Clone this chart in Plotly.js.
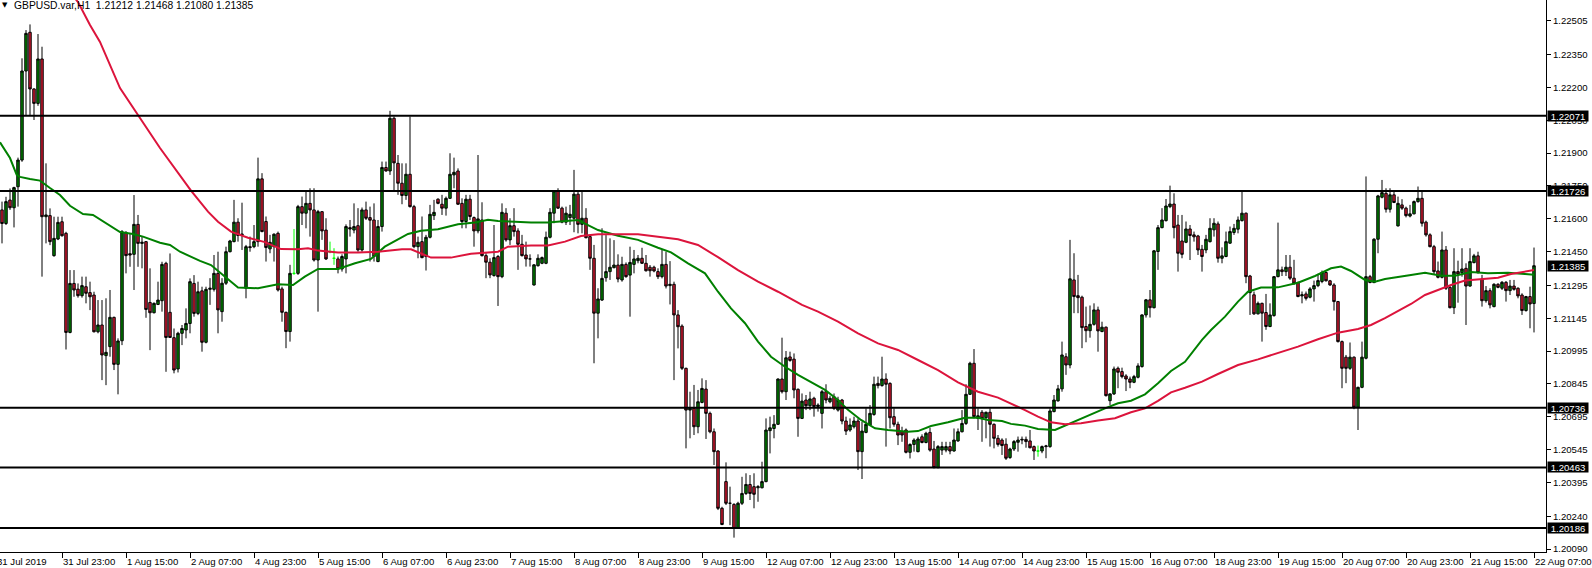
<!DOCTYPE html>
<html>
<head>
<meta charset="utf-8">
<script src="https://cdn.plot.ly/plotly-3.0.1.min.js"></script>
<style>
html,body{margin:0;padding:0;background:#fff;}
#chart{width:1592px;height:568px;}
</style>
</head>
<body>
<div id="chart"></div>
<script>
const symbol = "GBPUSD.var";
const timeframe = "H1";

const open = [
1.21600,1.21640,1.21578,1.21685,1.21650,1.21746,1.21868,1.22275,1.22452,1.22193,
1.22127,1.22330,1.21609,1.21614,1.21431,1.21507,1.21586,1.21533,1.21080,1.21304,
1.21278,1.21248,1.21289,1.21262,1.21251,1.21083,1.21114,1.20974,1.21015,1.21149,
1.20934,1.21042,1.21537,1.21440,1.21437,1.21574,1.21487,1.21495,1.21217,1.21170,
1.21208,1.21225,1.21396,1.21172,1.21056,1.20913,1.21076,1.21091,1.21121,1.21304,
1.21167,1.21270,1.21035,1.21277,1.21277,1.21350,1.21175,1.21305,1.21449,1.21495,
1.21584,1.21526,1.21282,1.21472,1.21472,1.21495,1.21782,1.21587,1.21462,1.21472,
1.21533,1.21279,1.21172,1.21084,1.21350,1.21350,1.21655,1.21625,1.21670,1.21640,
1.21411,1.21632,1.21548,1.21449,1.21419,1.21416,1.21370,1.21416,1.21559,1.21548,
1.21568,1.21457,1.21640,1.21605,1.21594,1.21404,1.21564,1.21834,1.21818,1.22059,
1.21853,1.21762,1.21706,1.21803,1.21655,1.21472,1.21495,1.21427,1.21515,1.21614,
1.21689,1.21666,1.21648,1.21693,1.21800,1.21818,1.21670,1.21587,1.21689,1.21605,
1.21544,1.21594,1.21431,1.21401,1.21340,1.21427,1.21335,1.21625,1.21503,1.21568,
1.21544,1.21483,1.21434,1.21416,1.21297,1.21385,1.21396,1.21396,1.21515,1.21625,
1.21727,1.21648,1.21584,1.21605,1.21602,1.21712,1.21574,1.21602,1.21518,1.21419,
1.21168,1.21228,1.21330,1.21358,1.21376,1.21388,1.21320,1.21391,1.21342,1.21391,
1.21408,1.21419,1.21396,1.21378,1.21378,1.21358,1.21335,1.21391,1.21294,1.21300,
1.21160,1.21109,1.20916,1.20725,1.20733,1.20649,1.20760,1.20821,1.20710,1.20626,
1.20538,1.20276,1.20398,1.20299,1.20294,1.20187,1.20299,1.20344,1.20385,1.20375,
1.20370,1.20370,1.20398,1.20631,1.20641,1.20660,1.20867,1.20809,1.20968,1.20958,
1.20820,1.20687,1.20771,1.20745,1.20779,1.20741,1.20710,1.20809,1.20763,1.20786,
1.20725,1.20771,1.20675,1.20634,1.20649,1.20675,1.20535,1.20623,1.20657,1.20705,
1.20847,1.20837,1.20867,1.20847,1.20695,1.20660,1.20626,1.20634,1.20532,1.20568,
1.20535,1.20603,1.20577,1.20623,1.20547,1.20462,1.20542,1.20542,1.20558,1.20538,
1.20584,1.20626,1.20664,1.20797,1.20939,1.20687,1.20715,1.20690,1.20715,1.20660,
1.20596,1.20588,1.20569,1.20508,1.20547,1.20578,1.20588,1.20591,1.20584,1.20558,
1.20538,1.20538,1.20558,1.20558,1.20718,1.20767,1.20822,1.20969,1.20931,1.21320,
1.21248,1.21241,1.21107,1.21088,1.21117,1.21183,1.21084,1.21104,1.20768,1.20799,
1.20916,1.20901,1.20881,1.20867,1.20852,1.20875,1.20924,1.21160,1.21229,1.21193,
1.21450,1.21559,1.21591,1.21655,1.21667,1.21571,1.21498,1.21492,1.21553,1.21526,
1.21521,1.21460,1.21457,1.21495,1.21549,1.21576,1.21419,1.21427,1.21488,1.21537,
1.21552,1.21591,1.21625,1.21338,1.21252,1.21165,1.21213,1.21171,1.21107,1.21157,
1.21335,1.21366,1.21358,1.21378,1.21328,1.21308,1.21247,1.21256,1.21241,1.21279,
1.21294,1.21313,1.21354,1.21316,1.21297,1.21221,1.21038,1.20967,1.20916,1.20967,
1.20738,1.20829,1.20962,1.21335,1.21308,1.21506,1.21698,1.21716,1.21643,1.21709,
1.21567,1.21663,1.21648,1.21612,1.21622,1.21678,1.21693,1.21584,1.21526,1.21472,
1.21361,1.21332,1.21457,1.21286,1.21193,1.21358,1.21353,1.21373,1.21292,1.21399,
1.21430,1.21323,1.21225,1.21271,1.21198,1.21300,1.21282,1.21309,1.21271,1.21292,
1.21282,1.21251,1.21180,1.21244,1.21212
];

const high = [
1.21660,1.21678,1.21700,1.21738,1.21746,1.21879,1.22333,1.22462,1.22488,1.22196,
1.22444,1.22386,1.21853,1.21647,1.21609,1.21609,1.21609,1.21540,1.21365,1.21365,
1.21304,1.21335,1.21335,1.21312,1.21266,1.21228,1.21228,1.21236,1.21274,1.21152,
1.21053,1.21548,1.21543,1.21533,1.21708,1.21617,1.21518,1.21498,1.21373,1.21217,
1.21312,1.21403,1.21403,1.21441,1.21098,1.21083,1.21114,1.21190,1.21327,1.21342,
1.21312,1.21289,1.21289,1.21328,1.21434,1.21449,1.21328,1.21472,1.21503,1.21686,
1.21602,1.21673,1.21480,1.21518,1.21571,1.21879,1.21808,1.21610,1.21526,1.21533,
1.21541,1.21289,1.21175,1.21389,1.21553,1.21663,1.21701,1.21731,1.21739,1.21739,
1.21640,1.21635,1.21602,1.21495,1.21465,1.21427,1.21437,1.21574,1.21594,1.21670,
1.21648,1.21651,1.21678,1.21655,1.21670,1.21594,1.21861,1.21861,1.22093,1.22067,
1.21891,1.21853,1.21853,1.22067,1.21663,1.21518,1.21610,1.21526,1.21663,1.21686,
1.21693,1.21709,1.21701,1.21899,1.21879,1.21830,1.21693,1.21709,1.21709,1.21610,
1.21891,1.21675,1.21442,1.21419,1.21571,1.21434,1.21670,1.21648,1.21602,1.21648,
1.21556,1.21526,1.21495,1.21437,1.21392,1.21437,1.21427,1.21541,1.21648,1.21731,
1.21739,1.21655,1.21655,1.21663,1.21823,1.21731,1.21731,1.21648,1.21526,1.21480,
1.21282,1.21556,1.21525,1.21510,1.21502,1.21437,1.21426,1.21400,1.21472,1.21457,
1.21434,1.21467,1.21434,1.21388,1.21385,1.21373,1.21457,1.21449,1.21406,1.21312,
1.21182,1.21117,1.20919,1.20809,1.20840,1.20817,1.20870,1.20862,1.20718,1.20641,
1.20542,1.20283,1.20486,1.20375,1.20299,1.20306,1.20420,1.20436,1.20428,1.20436,
1.20382,1.20489,1.20687,1.20695,1.20702,1.20870,1.21056,1.20995,1.20992,1.20984,
1.20824,1.20801,1.20794,1.20809,1.20786,1.20756,1.20817,1.20843,1.20791,1.20801,
1.20786,1.20776,1.20695,1.20687,1.20695,1.20687,1.20672,1.20733,1.20748,1.20878,
1.20878,1.20969,1.20893,1.20852,1.20733,1.20672,1.20649,1.20641,1.20573,1.20596,
1.20603,1.20614,1.20626,1.20644,1.20584,1.20565,1.20580,1.20580,1.20580,1.20641,
1.20641,1.20725,1.20843,1.20946,1.21004,1.20733,1.20725,1.20718,1.20733,1.20664,
1.20611,1.20596,1.20596,1.20553,1.20588,1.20604,1.20604,1.20604,1.20634,1.20563,
1.20563,1.20563,1.20566,1.20733,1.20794,1.20840,1.21038,1.20985,1.21503,1.21442,
1.21343,1.21248,1.21198,1.21203,1.21213,1.21198,1.21129,1.21107,1.20802,1.20924,
1.20924,1.20919,1.20889,1.20878,1.20886,1.20939,1.21163,1.21233,1.21274,1.21457,
1.21571,1.21648,1.21690,1.21751,1.21716,1.21617,1.21617,1.21587,1.21571,1.21541,
1.21526,1.21480,1.21526,1.21602,1.21602,1.21587,1.21469,1.21541,1.21564,1.21576,
1.21610,1.21724,1.21628,1.21343,1.21267,1.21221,1.21216,1.21256,1.21213,1.21338,
1.21582,1.21381,1.21434,1.21434,1.21412,1.21313,1.21267,1.21267,1.21287,1.21317,
1.21348,1.21363,1.21358,1.21320,1.21305,1.21224,1.21043,1.20977,1.21034,1.20970,
1.20832,1.21038,1.21793,1.21343,1.21511,1.21709,1.21777,1.21739,1.21739,1.21724,
1.21701,1.21689,1.21655,1.21663,1.21683,1.21747,1.21724,1.21591,1.21533,1.21480,
1.21404,1.21541,1.21475,1.21292,1.21465,1.21408,1.21465,1.21396,1.21465,1.21439,
1.21449,1.21343,1.21292,1.21282,1.21305,1.21305,1.21315,1.21315,1.21320,1.21320,
1.21286,1.21259,1.21247,1.21289,1.21468
];

const low = [
1.21540,1.21487,1.21571,1.21640,1.21560,1.21655,1.21860,1.22074,1.22074,1.22051,
1.22116,1.21335,1.21487,1.21479,1.21426,1.21502,1.21518,1.21002,1.21076,1.21243,
1.21239,1.21239,1.21213,1.21182,1.21080,1.21076,1.20862,1.20839,1.20969,1.20908,
1.20797,1.21022,1.21350,1.21380,1.21274,1.21380,1.21373,1.21147,1.20999,1.21167,
1.21205,1.21175,1.20900,1.21056,1.20893,1.20897,1.21022,1.21053,1.21076,1.21152,
1.21159,1.20992,1.21030,1.21206,1.21267,1.21076,1.21129,1.21297,1.21446,1.21492,
1.21495,1.21457,1.21236,1.21449,1.21465,1.21472,1.21538,1.21404,1.21442,1.21404,
1.21267,1.21129,1.21008,1.21038,1.21343,1.21343,1.21571,1.21556,1.21518,1.21404,
1.21175,1.21503,1.21411,1.21442,1.21389,1.21350,1.21358,1.21350,1.21518,1.21533,
1.21449,1.21449,1.21594,1.21404,1.21404,1.21401,1.21541,1.21815,1.21800,1.21731,
1.21709,1.21666,1.21686,1.21651,1.21465,1.21419,1.21419,1.21363,1.21510,1.21594,
1.21666,1.21617,1.21614,1.21690,1.21739,1.21663,1.21556,1.21556,1.21594,1.21472,
1.21533,1.21427,1.21328,1.21328,1.21335,1.21201,1.21328,1.21495,1.21480,1.21518,
1.21366,1.21427,1.21381,1.21381,1.21294,1.21381,1.21392,1.21392,1.21510,1.21579,
1.21645,1.21579,1.21571,1.21571,1.21538,1.21533,1.21533,1.21510,1.21366,1.20939,
1.21053,1.21224,1.21312,1.21320,1.21373,1.21309,1.21312,1.21330,1.21152,1.21350,
1.21396,1.21393,1.21358,1.21335,1.21355,1.21324,1.21327,1.21281,1.21208,1.20862,
1.21007,1.20908,1.20550,1.20596,1.20611,1.20619,1.20756,1.20593,1.20619,1.20474,
1.20268,1.20199,1.20291,1.20199,1.20142,1.20184,1.20291,1.20337,1.20314,1.20276,
1.20306,1.20367,1.20395,1.20527,1.20596,1.20657,1.20801,1.20771,1.20946,1.20779,
1.20603,1.20684,1.20725,1.20725,1.20695,1.20718,1.20641,1.20756,1.20756,1.20725,
1.20718,1.20660,1.20611,1.20626,1.20641,1.20451,1.20410,1.20619,1.20654,1.20699,
1.20824,1.20832,1.20558,1.20641,1.20649,1.20565,1.20580,1.20527,1.20504,1.20535,
1.20532,1.20573,1.20573,1.20535,1.20459,1.20459,1.20520,1.20532,1.20523,1.20535,
1.20580,1.20623,1.20657,1.20794,1.20687,1.20634,1.20580,1.20596,1.20558,1.20550,
1.20558,1.20520,1.20497,1.20502,1.20538,1.20535,1.20569,1.20553,1.20550,1.20497,
1.20512,1.20528,1.20505,1.20553,1.20715,1.20764,1.20809,1.20886,1.20916,1.21168,
1.21168,1.21008,1.21035,1.21056,1.21111,1.20992,1.21081,1.20787,1.20748,1.20794,
1.20825,1.20870,1.20812,1.20825,1.20848,1.20870,1.20919,1.21148,1.21148,1.21190,
1.21366,1.21556,1.21587,1.21648,1.21510,1.21358,1.21419,1.21488,1.21411,1.21495,
1.21434,1.21358,1.21442,1.21491,1.21518,1.21399,1.21396,1.21424,1.21485,1.21526,
1.21533,1.21587,1.21305,1.21160,1.21160,1.21162,1.21038,1.21092,1.21104,1.21152,
1.21332,1.21338,1.21338,1.21320,1.21297,1.21241,1.21213,1.21226,1.21236,1.21221,
1.21287,1.21305,1.21313,1.21293,1.21180,1.21034,1.20825,1.20848,1.20909,1.20729,
1.20634,1.20825,1.20957,1.21305,1.21305,1.21442,1.21693,1.21628,1.21628,1.21671,
1.21564,1.21640,1.21606,1.21606,1.21620,1.21673,1.21564,1.21518,1.21469,1.21343,
1.21327,1.21327,1.21274,1.21190,1.21164,1.21216,1.21335,1.21114,1.21289,1.21396,
1.21350,1.21198,1.21216,1.21190,1.21195,1.21282,1.21274,1.21221,1.21251,1.21271,
1.21236,1.21160,1.21175,1.21099,1.21080
];

const close = [
1.21639,1.21578,1.21678,1.21650,1.21742,1.21868,1.22275,1.22447,1.22193,1.22127,
1.22330,1.21609,1.21617,1.21495,1.21510,1.21583,1.21522,1.21080,1.21304,1.21274,
1.21248,1.21294,1.21259,1.21243,1.21083,1.21114,1.20977,1.20989,1.21149,1.20934,
1.21041,1.21540,1.21431,1.21434,1.21574,1.21487,1.21492,1.21185,1.21170,1.21213,
1.21228,1.21391,1.21057,1.21057,1.20908,1.21076,1.21098,1.21121,1.21312,1.21167,
1.21266,1.21035,1.21277,1.21282,1.21350,1.21183,1.21305,1.21449,1.21498,1.21584,
1.21523,1.21529,1.21472,1.21468,1.21495,1.21782,1.21541,1.21468,1.21492,1.21529,
1.21274,1.21172,1.21084,1.21350,1.21350,1.21655,1.21625,1.21670,1.21640,1.21411,
1.21632,1.21544,1.21416,1.21449,1.21419,1.21370,1.21427,1.21564,1.21553,1.21564,
1.21457,1.21640,1.21602,1.21593,1.21427,1.21564,1.21834,1.21818,1.22059,1.21855,
1.21762,1.21706,1.21803,1.21655,1.21472,1.21492,1.21422,1.21515,1.21620,1.21629,
1.21670,1.21648,1.21693,1.21803,1.21812,1.21666,1.21587,1.21689,1.21610,1.21544,
1.21599,1.21431,1.21401,1.21343,1.21422,1.21335,1.21629,1.21503,1.21568,1.21541,
1.21483,1.21431,1.21416,1.21416,1.21389,1.21419,1.21422,1.21515,1.21629,1.21727,
1.21648,1.21584,1.21625,1.21620,1.21712,1.21574,1.21602,1.21513,1.21419,1.21168,
1.21233,1.21327,1.21358,1.21378,1.21388,1.21324,1.21391,1.21335,1.21400,1.21416,
1.21419,1.21396,1.21362,1.21362,1.21361,1.21335,1.21391,1.21292,1.21300,1.21160,
1.21106,1.20916,1.20725,1.20733,1.20649,1.20763,1.20824,1.20710,1.20626,1.20535,
1.20276,1.20202,1.20299,1.20299,1.20184,1.20299,1.20344,1.20385,1.20344,1.20340,
1.20375,1.20398,1.20634,1.20644,1.20660,1.20867,1.20809,1.20964,1.20952,1.20817,
1.20687,1.20766,1.20745,1.20776,1.20741,1.20748,1.20809,1.20771,1.20779,1.20733,
1.20771,1.20675,1.20629,1.20657,1.20675,1.20535,1.20629,1.20660,1.20710,1.20843,
1.20837,1.20867,1.20843,1.20690,1.20660,1.20611,1.20611,1.20532,1.20568,1.20588,
1.20593,1.20577,1.20619,1.20542,1.20462,1.20558,1.20558,1.20558,1.20538,1.20588,
1.20626,1.20664,1.20797,1.20939,1.20695,1.20699,1.20687,1.20715,1.20660,1.20596,
1.20568,1.20563,1.20505,1.20547,1.20581,1.20588,1.20591,1.20581,1.20553,1.20538,
1.20538,1.20558,1.20561,1.20721,1.20771,1.20822,1.20977,1.20931,1.21325,1.21244,
1.21239,1.21102,1.21088,1.21117,1.21183,1.21087,1.21104,1.20791,1.20799,1.20913,
1.20898,1.20878,1.20867,1.20852,1.20878,1.20927,1.21160,1.21229,1.21193,1.21453,
1.21559,1.21594,1.21658,1.21667,1.21559,1.21442,1.21437,1.21553,1.21523,1.21517,
1.21457,1.21427,1.21506,1.21556,1.21579,1.21419,1.21430,1.21495,1.21541,1.21556,
1.21594,1.21625,1.21335,1.21262,1.21165,1.21213,1.21168,1.21107,1.21160,1.21335,
1.21366,1.21358,1.21378,1.21328,1.21305,1.21244,1.21252,1.21236,1.21279,1.21294,
1.21317,1.21354,1.21316,1.21297,1.21221,1.21038,1.20916,1.20916,1.20967,1.20738,
1.20829,1.20967,1.21335,1.21308,1.21506,1.21704,1.21719,1.21643,1.21709,1.21674,
1.21670,1.21648,1.21614,1.21622,1.21678,1.21693,1.21579,1.21526,1.21472,1.21358,
1.21332,1.21457,1.21282,1.21193,1.21358,1.21347,1.21370,1.21292,1.21404,1.21430,
1.21353,1.21225,1.21271,1.21206,1.21300,1.21286,1.21309,1.21271,1.21292,1.21277,
1.21247,1.21180,1.21244,1.21210,1.21385
];

// bars drawn as lime doji marks
const dojiBars = [74, 83, 84, 260];

// moving averages (bar index, price)
const maFastX = [0.5,3,4.67,5.5,8,10.5,13,15.5,18,21.25,23.75,28,30.5,33.75,36.25,40.5,43,45.5,50.5,53.25,55.75,58.25,60,65,70,73.75,76.7,80,85,89.25,93.25,96.7,100,102.5,105.75,110,115,119.25,122.5,125,129.25,133.25,137.5,141.75,145,147.5,150,155,160,165,168.25,172.5,176.75,180,183.25,186.75,190,193.25,196.75,200,203.25,206.75,210,212.5,215.75,219.25,222.5,227.5,230,233.25,237.5,241.75,245,247.5,251,253.25,256.75,260,264.25,266.75,270,273.25,276.75,280,283.25,286.75,290,293.25,296.75,301,303.25,306.75,310,312.5,315.75,320,325,329.25,333.25,335.75,338.25,341.75,344.25,346.75,350,353.25,356.75,360.75,364.25,368.25,372.5,377.5,381.75,384];
const maFastY = [1.21949,1.21877,1.21800,1.21791,1.21781,1.21774,1.21740,1.21708,1.21659,1.21621,1.21617,1.21568,1.21539,1.21530,1.21518,1.21490,1.21480,1.21449,1.21407,1.21388,1.21350,1.21312,1.21285,1.21282,1.21300,1.21297,1.21335,1.21370,1.21370,1.21396,1.21416,1.21472,1.21503,1.21530,1.21545,1.21552,1.21574,1.21582,1.21595,1.21589,1.21586,1.21582,1.21582,1.21589,1.21594,1.21571,1.21548,1.21522,1.21503,1.21467,1.21446,1.21396,1.21350,1.21266,1.21190,1.21122,1.21038,1.20969,1.20923,1.20886,1.20852,1.20817,1.20771,1.20726,1.20680,1.20642,1.20634,1.20626,1.20629,1.20652,1.20669,1.20690,1.20690,1.20680,1.20675,1.20662,1.20654,1.20639,1.20634,1.20654,1.20680,1.20703,1.20733,1.20756,1.20768,1.20797,1.20848,1.20904,1.20946,1.21046,1.21091,1.21152,1.21221,1.21266,1.21285,1.21286,1.21307,1.21338,1.21373,1.21381,1.21361,1.21320,1.21312,1.21324,1.21335,1.21343,1.21353,1.21339,1.21339,1.21356,1.21350,1.21353,1.21347,1.21344];

const maSlowX = [17,20,23,25.5,30.5,35,40.5,48.25,50,52.5,55,58.25,62.5,66.75,70.75,75,77.5,80,85,90,95,101,103.25,108.25,113.25,118.25,125,127.5,133.25,137.5,141.75,145.75,150,160,170,175,180,185,190,195,201,205,210,215,220,225,230,235,240,245,250,253.25,256.75,260,263.25,266.75,270.75,275,279.25,283.25,286.75,290,293.25,296.75,301,305,310,315,320,325,330,335,340,343.25,346.75,350,353.25,356.75,360,363.25,366.75,370,375,378.25,381.75,384];
const maSlowY = [1.22660,1.22590,1.22485,1.22408,1.22197,1.22071,1.21923,1.21728,1.21690,1.21632,1.21586,1.21541,1.21513,1.21493,1.21461,1.21460,1.21465,1.21454,1.21445,1.21445,1.21449,1.21460,1.21460,1.21422,1.21422,1.21440,1.21449,1.21472,1.21477,1.21477,1.21495,1.21521,1.21529,1.21529,1.21506,1.21480,1.21424,1.21365,1.21312,1.21266,1.21206,1.21175,1.21129,1.21076,1.21030,1.21000,1.20954,1.20908,1.20852,1.20809,1.20782,1.20756,1.20725,1.20695,1.20669,1.20660,1.20665,1.20677,1.20688,1.20715,1.20733,1.20767,1.20806,1.20827,1.20855,1.20890,1.20931,1.20957,1.20987,1.21015,1.21049,1.21079,1.21096,1.21114,1.21145,1.21179,1.21210,1.21251,1.21274,1.21297,1.21317,1.21323,1.21330,1.21347,1.21358,1.21365];

// horizontal levels and price axis ticks
const levels = [1.22071, 1.21726, 1.20736, 1.20463, 1.20186];
const priceTicks = [1.22505,1.22350,1.22200,1.22050,1.21900,1.21750,1.21600,1.21450,1.21295,1.21145,1.20995,1.20845,1.20695,1.20545,1.20395,1.20240,1.20090];

// time axis labels (every 16 bars)
const timeLabelBars = [0,16,32,48,64,80,96,112,128,144,160,176,192,208,224,240,256,272,288,304,320,336,352,368,384];
const timeLabels = ["31 Jul 2019","31 Jul 23:00","1 Aug 15:00","2 Aug 07:00","4 Aug 23:00","5 Aug 15:00","6 Aug 07:00","6 Aug 23:00","7 Aug 15:00","8 Aug 07:00","8 Aug 23:00","9 Aug 15:00","12 Aug 07:00","12 Aug 23:00","13 Aug 15:00","14 Aug 07:00","14 Aug 23:00","15 Aug 15:00","16 Aug 07:00","18 Aug 23:00","19 Aug 15:00","20 Aug 07:00","20 Aug 23:00","21 Aug 15:00","22 Aug 07:00"];

// ---------------------------------------------------------------
const FONT = "Liberation Sans, Arial, sans-serif";
const FS = 9.6;
const idx = open.map((_, i) => i);
const isDoji = i => dojiBars.indexOf(i) >= 0;
const pick = (arr, keep) => idx.filter(keep).map(i => arr[i]);
const notD = i => !isDoji(i);

const candles = {
  type: 'candlestick',
  x: pick(idx, notD), open: pick(open, notD), high: pick(high, notD),
  low: pick(low, notD), close: pick(close, notD),
  increasing: {line: {color: '#000000', width: 1}, fillcolor: '#008000'},
  decreasing: {line: {color: '#000000', width: 1}, fillcolor: '#d01830'},
  whiskerwidth: 0, hoverinfo: 'skip', showlegend: false
};
const dojis = {
  type: 'candlestick',
  x: pick(idx, isDoji), open: pick(open, isDoji), high: pick(high, isDoji),
  low: pick(low, isDoji), close: pick(close, isDoji),
  increasing: {line: {color: '#00ff00', width: 1}, fillcolor: '#00ff00'},
  decreasing: {line: {color: '#00ff00', width: 1}, fillcolor: '#00ff00'},
  whiskerwidth: 0, hoverinfo: 'skip', showlegend: false
};
const fastMA = {type: 'scatter', mode: 'lines', x: maFastX, y: maFastY,
  line: {color: '#008000', width: 2}, hoverinfo: 'skip', showlegend: false};
const slowMA = {type: 'scatter', mode: 'lines', x: maSlowX, y: maSlowY,
  line: {color: '#dc143c', width: 2}, hoverinfo: 'skip', showlegend: false};

const last = open.length - 1;
const shapes = levels.map(v => ({
  type: 'line', xref: 'paper', x0: 0, x1: 1, yref: 'y', y0: v, y1: v,
  line: {color: '#000000', width: 2}, layer: 'above'
}));

const boxLabel = v => ({
  xref: 'paper', x: 1, xanchor: 'left', xshift: 1,
  yref: 'y', y: v, yanchor: 'middle',
  text: v.toFixed(5), showarrow: false,
  bgcolor: '#000000', font: {family: FONT, size: FS, color: '#ffffff'},
  width: 40, height: 10, borderpad: 0
});
const annotations = levels.map(boxLabel).concat([boxLabel(close[last])]);
annotations.push({
  xref: 'paper', x: 13 / 1546, xanchor: 'left', yref: 'paper', y: 1 - 5 / 552, yanchor: 'middle',
  text: symbol + ',' + timeframe + '\u00a0\u00a0' + [open[last], high[last], low[last], close[last]].map(v => v.toFixed(5)).join(' '),
  showarrow: false, font: {family: FONT, size: 10.3, color: '#000000'}, borderpad: 0
});
annotations.push({
  xref: 'paper', x: 4.5 / 1546, xanchor: 'center', yref: 'paper', y: 1 - 5 / 552, yanchor: 'middle',
  text: '\u25BC', showarrow: false, font: {family: 'DejaVu Sans', size: 7, color: '#000000'}, borderpad: 0
});
annotations.push({
  xref: 'paper', x: 0, xanchor: 'left', xshift: -4,
  yref: 'paper', y: 0, yanchor: 'top', yshift: -3,
  text: timeLabels[0], showarrow: false, font: {family: FONT, size: FS, color: '#000000'}, borderpad: 0
});

const layout = {
  width: 1592, height: 568,
  margin: {l: 0, r: 46, t: 0, b: 16, pad: 0},
  paper_bgcolor: '#ffffff', plot_bgcolor: '#ffffff',
  boxgap: 0.12, boxmode: 'overlay',
  showlegend: false,
  xaxis: {
    range: [0.5, 387], rangeslider: {visible: false},
    showgrid: false, zeroline: false, showline: true, linecolor: '#000000', linewidth: 1,
    ticks: 'outside', ticklen: 5, tickwidth: 1, tickcolor: '#000000',
    tickmode: 'array', tickvals: timeLabelBars, ticktext: timeLabels,
    ticklabelposition: 'outside right', tickangle: 0,
    tickfont: {family: FONT, size: FS, color: '#000000'}
  },
  yaxis: {
    side: 'right', range: [1.200763, 1.225996],
    showgrid: false, zeroline: false, showline: true, linecolor: '#000000', linewidth: 1,
    ticks: 'outside', ticklen: 4, tickwidth: 1, tickcolor: '#000000',
    tickmode: 'array', tickvals: priceTicks, tickformat: '.5f',
    tickfont: {family: FONT, size: FS, color: '#000000'}
  },
  shapes: shapes,
  annotations: annotations
};

Plotly.newPlot('chart', [fastMA, slowMA, candles, dojis], layout, {staticPlot: true, displayModeBar: false});
</script>
</body>
</html>
